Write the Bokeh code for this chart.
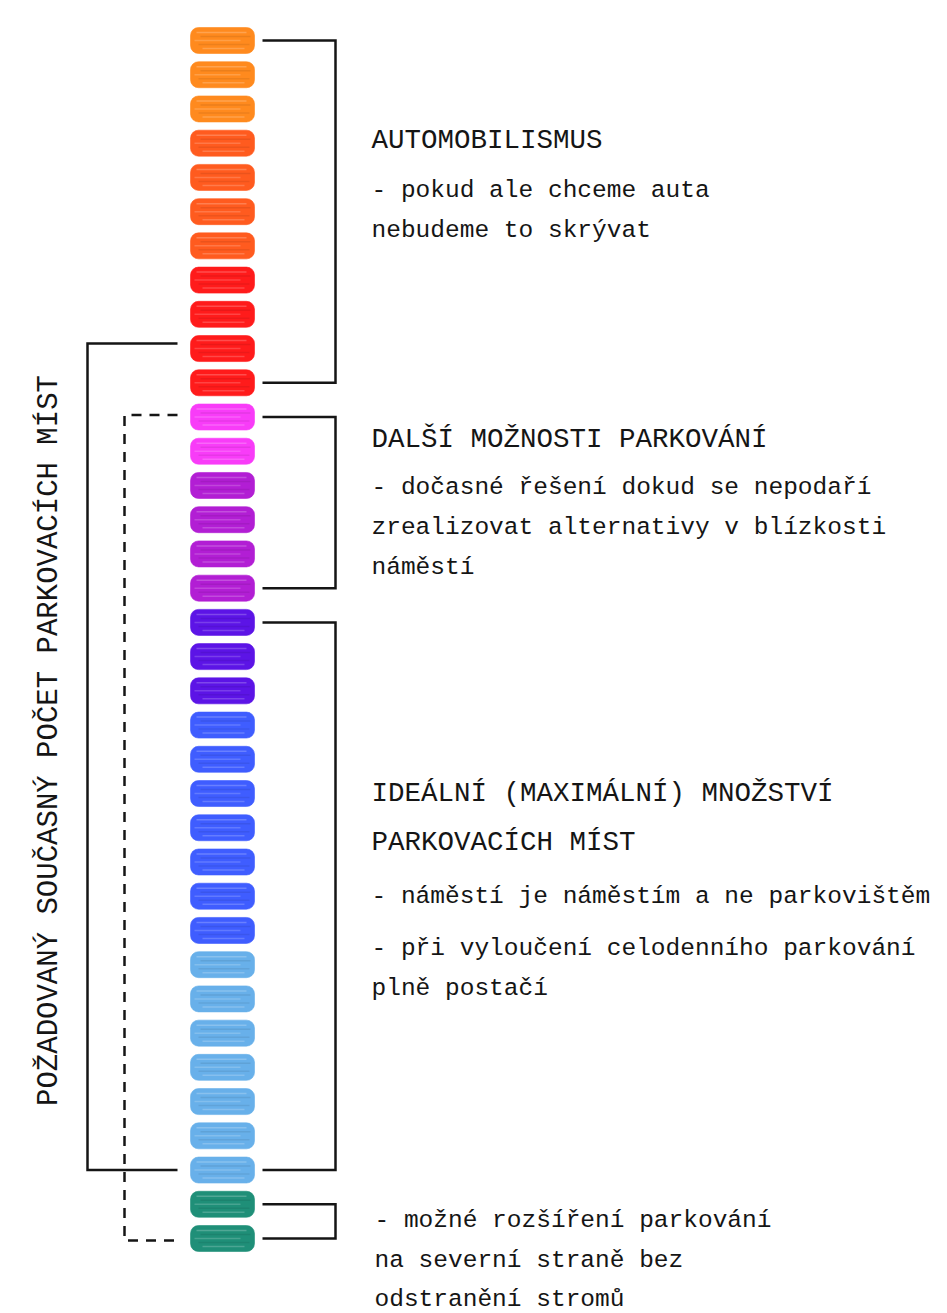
import numpy as np
from bokeh.plotting import figure
from bokeh.models import Range1d, ColumnDataSource
from bokeh.core.properties import value
from bokeh.embed import file_html
from bokeh.resources import INLINE

# ---------------- data ----------------
shade_counts = [3, 4, 4, 2, 4, 3, 7, 7, 2]
shade_colors = ["#FF8A1E", "#FF5B1F", "#FF1B1B", "#F83CF8", "#B21ED4",
                "#5C14E6", "#3F5DFF", "#68B0EA", "#1F8F78"]

right_groups = [(0, 10), (11, 16), (17, 33), (34, 35)]   # pill index ranges
current_span = (9, 33)     # solid bracket (current number of spaces)
extended_span = (11, 35)   # dashed bracket

vertical_label = "POŽADOVANÝ SOUČASNÝ POČET PARKOVACÍCH MÍST"

block_lines = [
    ["AUTOMOBILISMUS", "- pokud ale chceme auta", "nebudeme to skrývat"],
    ["DALŠÍ MOŽNOSTI PARKOVÁNÍ", "- dočasné řešení dokud se nepodaří",
     "zrealizovat alternativy v blízkosti", "náměstí"],
    ["IDEÁLNÍ (MAXIMÁLNÍ) MNOŽSTVÍ", "PARKOVACÍCH MÍST",
     "- náměstí je náměstím a ne parkovištěm",
     "- při vyloučení celodenního parkování", "plně postačí"],
    ["- možné rozšíření parkování", "na severní straně bez", "odstranění stromů"],
]
block_heading_count = [1, 1, 2, 0]

# ---------------- layout ----------------
W, H = 947, 1313
FONT = "Liberation Mono"
INK = "#151515"

p = figure(width=W, height=H, output_backend="svg", toolbar_location=None,
           x_range=Range1d(0, W), y_range=Range1d(H, 0),
           min_border=0)
p.axis.visible = False
p.grid.visible = False
p.outline_line_color = None
p.background_fill_color = "white"
p.border_fill_color = "white"

n = sum(shade_counts)
y0, y1 = 40.0, 1238.0
step = (y1 - y0) / (n - 1)
yc = [y0 + i * step for i in range(n)]
colors = []
for c, k in zip(shade_colors, shade_counts):
    colors += [c] * k

px_l, px_r, ph = 190, 254, 26
src = ColumnDataSource(dict(left=[px_l] * n, right=[px_r] * n,
                            top=[y - ph / 2 for y in yc],
                            bottom=[y + ph / 2 for y in yc], color=colors))
p.quad(left="left", right="right", top="top", bottom="bottom",
       fill_color="color", line_color="color", line_alpha=0.6, line_width=1,
       border_radius=8, source=src)

# streaky texture
pattern = [(-8, 196, 246, "white", 0.22), (-4, 200, 250, "black", 0.08),
           (0, 194, 240, "white", 0.18), (4, 198, 249, "black", 0.07),
           (8, 202, 244, "white", 0.2)]
xs, ys, sc, sa = [], [], [], []
for y in yc:
    for dy, a, b, col, al in pattern:
        xs.append([a, b]); ys.append([y + dy, y + dy]); sc.append(col); sa.append(al)
p.multi_line(xs=xs, ys=ys, line_color=sc, line_alpha=sa, line_width=1.5)

# right brackets
bx0, bx1 = 262, 335
for a, b in right_groups:
    p.line([bx0, bx1, bx1, bx0], [yc[a], yc[a], yc[b], yc[b]],
           line_color=INK, line_width=2.5, line_join="miter")

# left solid bracket
lx, lend = 87, 177
a, b = current_span
p.line([lend, lx, lx, lend], [yc[a] - 5, yc[a] - 5, yc[b], yc[b]],
       line_color=INK, line_width=2.5, line_join="miter")

# dashed bracket
dx = 124
a, b = extended_span
p.line([lend, dx, dx, lend], [yc[a] - 2, yc[a] - 2, yc[b] + 2, yc[b] + 2],
       line_color=INK, line_width=2.5, line_dash="10 8", line_join="miter")

# vertical label
p.text(x=[49], y=[740], text=[vertical_label], angle=np.pi / 2,
       text_align="center", text_baseline="middle",
       text_font=value(FONT), text_font_size="29px", text_color=INK)

# text blocks
baselines = [
    [140, 190, 230],
    [439, 487, 527, 567],
    [793, 842, 896, 948, 988],
    [1220, 1260, 1299],
]
block_x = [371, 371, 371, 374]
for lines, nh, bl, bx in zip(block_lines, block_heading_count, baselines, block_x):
    for j, (t, yb) in enumerate(zip(lines, bl)):
        size = "27.5px" if j < nh else "24.5px"
        p.text(x=[bx], y=[yb], text=[t], text_align="left",
               text_baseline="alphabetic", text_font=value(FONT),
               text_font_size=size, text_color=INK)

open("out.html", "w").write(file_html(p, INLINE))
